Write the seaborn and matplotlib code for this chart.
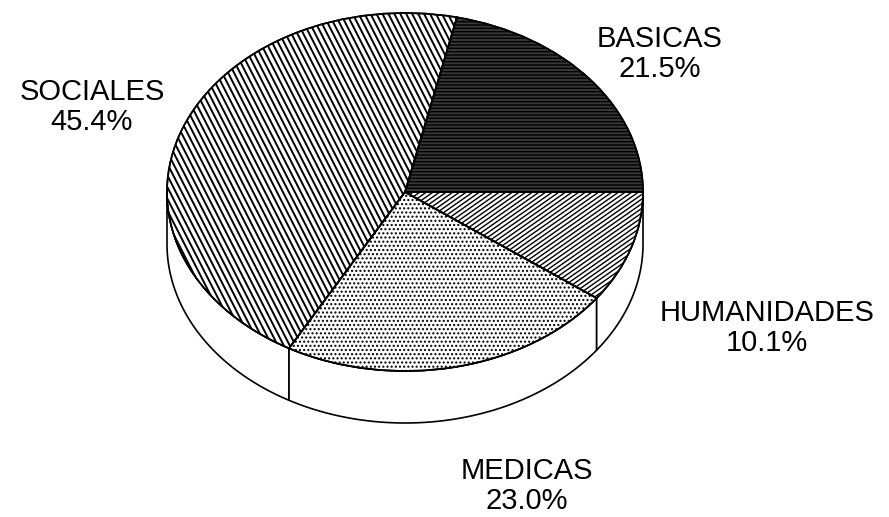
import numpy as np
import matplotlib
matplotlib.use("Agg")
import matplotlib.pyplot as plt
from matplotlib.collections import LineCollection
from matplotlib.patches import PathPatch
import seaborn as sns

# slices in counter-clockwise order starting at 3 o'clock
labels = ["BASICAS", "SOCIALES", "MEDICAS", "HUMANIDADES"]
values = [21.5, 45.4, 23.0, 10.1]
pct_text = ["21.5%", "45.4%", "23.0%", "10.1%"]

hatches = ["-----", "", "....", ""]
faces = ["#383838", "white", "white", "white"]
# custom stripes: (angle deg, spacing px, linewidth pt) or None
stripes = [None, (117, 5.3, 1.4), None, (35, 3.8, 1.0)]
# label block centres in pixels (x, y from top)
label_pos = [(660, 54), (92, 107), (527, 486), (767, 328)]


def stripe_lines(ax, wedge, angle, spacing, lw, a, b):
    th = np.radians(angle)
    d = np.array([np.cos(th), np.sin(th)])
    n = np.array([-d[1], d[0]])
    segs = []
    for k in np.arange(-400, 400, spacing):
        p0 = k * n - 500 * d
        p1 = k * n + 500 * d
        segs.append([(p0[0] / a, p0[1] / b), (p1[0] / a, p1[1] / b)])
    lc = LineCollection(segs, colors="black", linewidths=lw, zorder=3)
    ax.add_collection(lc)
    lc.set_clip_path(wedge)


def draw_pie():
    sns.set_theme(style="white")
    plt.rcParams["font.family"] = ["Liberation Sans", "DejaVu Sans"]
    plt.rcParams["hatch.linewidth"] = 1.0
    W, H = 889, 517
    fig = plt.figure(figsize=(W / 100, H / 100), dpi=100)
    ax = fig.add_axes([0, 0, 1, 1])

    cx, cy, a, b = 405, 192, 238, 179   # ellipse in pixels
    depth = 52 / b

    # side of the cylinder (front half only), white with outline
    edges = np.concatenate([[0], np.cumsum(values)]) / sum(values) * 360
    for i in range(len(values)):
        t0 = max(edges[i], 180)
        t1 = min(edges[i + 1], 360)
        if t1 <= t0:
            continue
        t = np.radians(np.linspace(t0, t1, 100))
        xs = np.concatenate([np.cos(t), np.cos(t[::-1])])
        ys = np.concatenate([np.sin(t), np.sin(t[::-1]) - depth])
        ax.fill(xs, ys, facecolor="white", edgecolor="black", linewidth=1.2, zorder=1)

    wedges, _ = ax.pie(values, startangle=0, counterclock=True, colors=faces,
                       hatch=hatches, radius=1,
                       wedgeprops=dict(edgecolor="black", linewidth=1.2))
    for w in wedges:
        w.set_zorder(2)

    for w, st in zip(wedges, stripes):
        if st is not None:
            stripe_lines(ax, w, st[0], st[1], st[2], a, b)

    # outline again on top of stripes
    for w in wedges:
        ax.add_patch(PathPatch(w.get_path(), fill=False, edgecolor="black",
                               linewidth=1.2, zorder=4))

    ax.set_aspect("auto")
    ax.set_xlim(-cx / a, (W - cx) / a)
    ax.set_ylim(-(H - cy) / b, cy / b)
    ax.axis("off")

    for lab, pct, (px, py) in zip(labels, pct_text, label_pos):
        fig.text(px / W, 1 - py / H, lab + "\n" + pct, ha="center", va="center",
                 multialignment="center", fontsize=21, linespacing=1.1,
                 color="black")

    fig.savefig("out.png", dpi=100, facecolor="white")


if __name__ == '__main__':
    draw_pie()
